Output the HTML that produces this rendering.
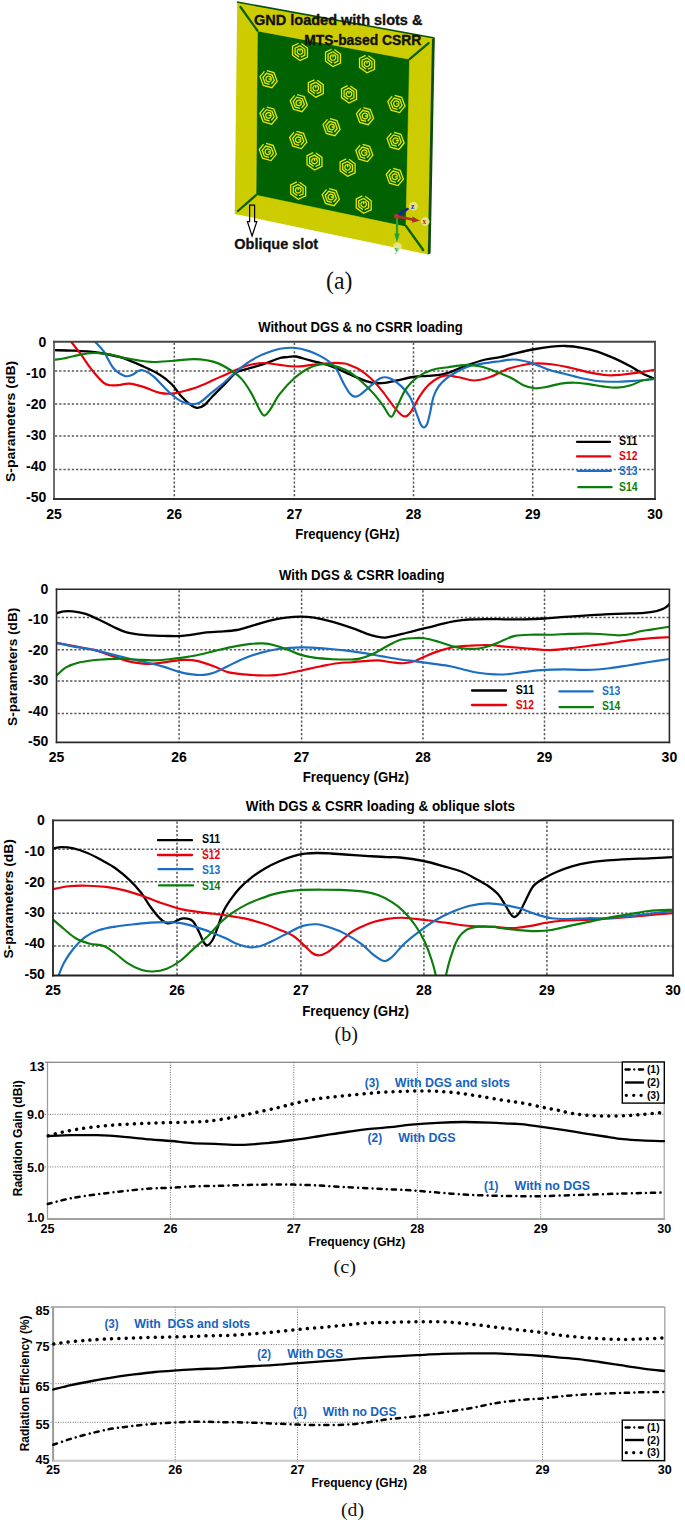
<!DOCTYPE html>
<html><head><meta charset="utf-8"><style>
html,body{margin:0;padding:0;background:#fff;}
body{width:685px;height:1523px;overflow:hidden;}
svg{display:block;}
</style></head><body>
<svg width="685" height="1523" viewBox="0 0 685 1523">
<defs>
<clipPath id="c1"><rect x="54" y="341.8" width="601" height="157.2"/></clipPath>
<clipPath id="c2"><rect x="56.5" y="589.2" width="612.9" height="153.2"/></clipPath>
<clipPath id="c3"><rect x="53" y="820.4" width="620" height="155.1"/></clipPath>
<clipPath id="c4"><rect x="46.5" y="1059.2" width="618.7" height="162.7"/></clipPath>
<clipPath id="c5"><rect x="52.1" y="1304" width="613.7" height="159.7"/></clipPath>
</defs>
<rect x="0" y="0" width="685" height="1523" fill="#fff"/>
<polygon points="237.2,2.3 434.5,38.2 428,254.4 234.7,213.9" fill="#cccc00" stroke="none" stroke-width="0" />
<polygon points="432,39 434.8,38 430.6,253.6 427.8,254.4" fill="#0b4d0b" stroke="none" stroke-width="0" />
<line x1="237" y1="2" x2="434.5" y2="38" stroke="#0a500a" stroke-width="1.6" />
<polygon points="257.4,30.9 409.6,59.2 406,226.8 256,195.2" fill="#006200" stroke="none" stroke-width="0" />
<polygon points="257.4,30.9 409.6,59.2 406,226.8 256,195.2" fill="none" stroke="#d8d800" stroke-width="0.6" />
<line x1="240.5" y1="7" x2="257.4" y2="30.6" stroke="#0a600a" stroke-width="2.3" stroke-linecap="round"/>
<line x1="428.6" y1="43.1" x2="409.6" y2="59.2" stroke="#0a600a" stroke-width="2.3" stroke-linecap="round"/>
<line x1="237.9" y1="211" x2="256" y2="195.2" stroke="#0a600a" stroke-width="2.3" stroke-linecap="round"/>
<line x1="406" y1="226" x2="423.2" y2="250" stroke="#0a600a" stroke-width="2.3" stroke-linecap="round"/>
<path d="M301.35 43.58 L307.48 48.04 L307.48 57.04 L300 60.6 L292.52 55.16 L292.52 46.16 L298.65 43.24 M299.12 56.86 L295.09 53.94 L295.09 48.04 L300 45.7 L304.91 49.26 L304.91 55.16 L300.88 57.08 M300.9 48.9 A2.8 2.8 0 1 1 299.1 48.9 M300 48.3 L300 51.6 M334.35 49.58 L340.48 54.04 L340.48 63.04 L333 66.6 L325.52 61.16 L325.52 52.16 L331.65 49.24 M332.12 62.86 L328.09 59.94 L328.09 54.04 L333 51.7 L337.91 55.26 L337.91 61.16 L333.88 63.08 M333.9 54.9 A2.8 2.8 0 1 1 332.1 54.9 M333 54.3 L333 57.6 M368.35 55.78 L374.48 60.24 L374.48 69.24 L367 72.8 L359.52 67.36 L359.52 58.36 L365.65 55.44 M366.12 69.06 L362.09 66.14 L362.09 60.24 L367 57.9 L371.91 61.46 L371.91 67.36 L367.88 69.28 M367.9 61.1 A2.8 2.8 0 1 1 366.1 61.1 M367 60.5 L367 63.8 M266.9 70.67 L273.92 72.57 L277.16 81.32 L271.84 87.75 L263.28 85.43 L260.04 76.68 L264.41 71.41 M269.71 84.46 L265.11 83.21 L262.99 77.48 L266.48 73.26 L272.09 74.79 L274.21 80.52 L271.35 83.98 M271.3 78.1 A2.8 2.8 0 1 0 271.3 79.9 M271.9 79 L268.6 79 M317.15 80.18 L323.28 84.64 L323.28 93.64 L315.8 97.2 L308.32 91.76 L308.32 82.76 L314.45 79.84 M314.92 93.46 L310.89 90.54 L310.89 84.64 L315.8 82.3 L320.71 85.86 L320.71 91.76 L316.68 93.68 M316.7 85.5 A2.8 2.8 0 1 1 314.9 85.5 M315.8 84.9 L315.8 88.2 M350.35 85.98 L356.48 90.44 L356.48 99.44 L349 103 L341.52 97.56 L341.52 88.56 L347.65 85.64 M348.12 99.26 L344.09 96.34 L344.09 90.44 L349 88.1 L353.91 91.66 L353.91 97.56 L349.88 99.48 M349.9 91.3 A2.8 2.8 0 1 1 348.1 91.3 M349 90.7 L349 94 M394.7 95.47 L401.72 97.37 L404.96 106.12 L399.64 112.55 L391.08 110.23 L387.84 101.48 L392.21 96.21 M397.51 109.26 L392.91 108.01 L390.79 102.28 L394.28 98.06 L399.89 99.59 L402.01 105.32 L399.15 108.78 M399.1 102.9 A2.8 2.8 0 1 0 399.1 104.7 M399.7 103.8 L396.4 103.8 M297.1 94.57 L304.12 96.47 L307.36 105.22 L302.04 111.65 L293.48 109.33 L290.24 100.58 L294.61 95.31 M299.91 108.36 L295.31 107.11 L293.19 101.38 L296.68 97.16 L302.29 98.69 L304.41 104.42 L301.55 107.88 M301.5 102 A2.8 2.8 0 1 0 301.5 103.8 M302.1 102.9 L298.8 102.9 M266.8 107.07 L273.82 108.97 L277.06 117.72 L271.74 124.15 L263.18 121.83 L259.94 113.08 L264.31 107.81 M269.61 120.86 L265.01 119.61 L262.89 113.88 L266.38 109.66 L271.99 111.19 L274.11 116.92 L271.25 120.38 M271.2 114.5 A2.8 2.8 0 1 0 271.2 116.3 M271.8 115.4 L268.5 115.4 M363.3 107.67 L370.32 109.57 L373.56 118.32 L368.24 124.75 L359.68 122.43 L356.44 113.68 L360.81 108.41 M366.11 121.46 L361.51 120.21 L359.39 114.48 L362.88 110.26 L368.49 111.79 L370.61 117.52 L367.75 120.98 M367.7 115.1 A2.8 2.8 0 1 0 367.7 116.9 M368.3 116 L365 116 M329.9 118.67 L336.92 120.57 L340.16 129.32 L334.84 135.75 L326.28 133.43 L323.04 124.68 L327.41 119.41 M332.71 132.46 L328.11 131.21 L325.99 125.48 L329.48 121.26 L335.09 122.79 L337.21 128.52 L334.35 131.98 M334.3 126.1 A2.8 2.8 0 1 0 334.3 127.9 M334.9 127 L331.6 127 M296.5 131.47 L303.52 133.37 L306.76 142.12 L301.44 148.55 L292.88 146.23 L289.64 137.48 L294.01 132.21 M299.31 145.26 L294.71 144.01 L292.59 138.28 L296.08 134.06 L301.69 135.59 L303.81 141.32 L300.95 144.78 M300.9 138.9 A2.8 2.8 0 1 0 300.9 140.7 M301.5 139.8 L298.2 139.8 M393.9 132.37 L400.92 134.27 L404.16 143.02 L398.84 149.45 L390.28 147.13 L387.04 138.38 L391.41 133.11 M396.71 146.16 L392.11 144.91 L389.99 139.18 L393.48 134.96 L399.09 136.49 L401.21 142.22 L398.35 145.68 M398.3 139.8 A2.8 2.8 0 1 0 398.3 141.6 M398.9 140.7 L395.6 140.7 M266.1 143.47 L273.12 145.37 L276.36 154.12 L271.04 160.55 L262.48 158.23 L259.24 149.48 L263.61 144.21 M268.91 157.26 L264.31 156.01 L262.19 150.28 L265.68 146.06 L271.29 147.59 L273.41 153.32 L270.55 156.78 M270.5 150.9 A2.8 2.8 0 1 0 270.5 152.7 M271.1 151.8 L267.8 151.8 M362.6 144.47 L369.62 146.37 L372.86 155.12 L367.54 161.55 L358.98 159.23 L355.74 150.48 L360.11 145.21 M365.41 158.26 L360.81 157.01 L358.69 151.28 L362.18 147.06 L367.79 148.59 L369.91 154.32 L367.05 157.78 M367 151.9 A2.8 2.8 0 1 0 367 153.7 M367.6 152.8 L364.3 152.8 M315.85 152.98 L321.98 157.44 L321.98 166.44 L314.5 170 L307.02 164.56 L307.02 155.56 L313.15 152.64 M313.62 166.26 L309.59 163.34 L309.59 157.44 L314.5 155.1 L319.41 158.66 L319.41 164.56 L315.38 166.48 M315.4 158.3 A2.8 2.8 0 1 1 313.6 158.3 M314.5 157.7 L314.5 161 M348.95 159.28 L355.08 163.74 L355.08 172.74 L347.6 176.3 L340.12 170.86 L340.12 161.86 L346.25 158.94 M346.72 172.56 L342.69 169.64 L342.69 163.74 L347.6 161.4 L352.51 164.96 L352.51 170.86 L348.48 172.78 M348.5 164.6 A2.8 2.8 0 1 1 346.7 164.6 M347.6 164 L347.6 167.3 M393.1 168.47 L400.12 170.37 L403.36 179.12 L398.04 185.55 L389.48 183.23 L386.24 174.48 L390.61 169.21 M395.91 182.26 L391.31 181.01 L389.19 175.28 L392.68 171.06 L398.29 172.59 L400.41 178.32 L397.55 181.78 M397.5 175.9 A2.8 2.8 0 1 0 397.5 177.7 M398.1 176.8 L394.8 176.8 M299.55 182.28 L305.68 186.74 L305.68 195.74 L298.2 199.3 L290.72 193.86 L290.72 184.86 L296.85 181.94 M297.32 195.56 L293.29 192.64 L293.29 186.74 L298.2 184.4 L303.11 187.96 L303.11 193.86 L299.08 195.78 M299.1 187.6 A2.8 2.8 0 1 1 297.3 187.6 M298.2 187 L298.2 190.3 M329.1 188.67 L336.12 190.57 L339.36 199.32 L334.04 205.75 L325.48 203.43 L322.24 194.68 L326.61 189.41 M331.91 202.46 L327.31 201.21 L325.19 195.48 L328.68 191.26 L334.29 192.79 L336.41 198.52 L333.55 201.98 M333.5 196.1 A2.8 2.8 0 1 0 333.5 197.9 M334.1 197 L330.8 197 M365.05 196.28 L371.18 200.74 L371.18 209.74 L363.7 213.3 L356.22 207.86 L356.22 198.86 L362.35 195.94 M362.82 209.56 L358.79 206.64 L358.79 200.74 L363.7 198.4 L368.61 201.96 L368.61 207.86 L364.58 209.78 M364.6 201.6 A2.8 2.8 0 1 1 362.8 201.6 M363.7 201 L363.7 204.3" stroke="#e8e800" stroke-width="1.3" fill="none" />
<text x="254" y="24.5" font-family="Liberation Sans" font-size="14.6" font-weight="bold" fill="#111" textLength="168.4" lengthAdjust="spacingAndGlyphs" stroke="#111" stroke-width="0.35">GND loaded with slots &amp;</text>
<text x="304.3" y="44.8" font-family="Liberation Sans" font-size="14.6" font-weight="bold" fill="#111" textLength="117" lengthAdjust="spacingAndGlyphs" stroke="#111" stroke-width="0.35">MTS-based CSRR</text>
<path d="M249.6 205.2 L254.6 205.2 L254.6 221.6 L256.8 221.6 L252.1 236.0 L247.4 221.6 L249.6 221.6 Z" stroke="#000" stroke-width="1.2" fill="none" stroke-linejoin="miter"/>
<text x="234.3" y="248.9" font-family="Liberation Sans" font-size="14.4" font-weight="bold" fill="#111" textLength="83.8" lengthAdjust="spacingAndGlyphs" stroke="#111" stroke-width="0.3">Oblique slot</text>
<circle cx="413.5" cy="206.2" r="4.4" fill="#e6e6a0" opacity="0.85"/>
<circle cx="425.2" cy="221.5" r="4.4" fill="#e6e6a0" opacity="0.85"/>
<circle cx="397.4" cy="246.6" r="4.4" fill="#e6e6a0" opacity="0.85"/>
<line x1="397" y1="217" x2="397" y2="238" stroke="#22a33a" stroke-width="2.2" />
<polygon points="394.2,233.5 399.8,233.5 397,242.5" fill="#22a33a" stroke="none" stroke-width="0" />
<line x1="397.5" y1="215.5" x2="407.5" y2="209" stroke="#1c1ca0" stroke-width="2.6" stroke-linecap="round"/>
<line x1="397" y1="216.5" x2="414" y2="219.8" stroke="#b03030" stroke-width="2.4" />
<polygon points="412.5,216.5 419.8,220.7 412,222.8" fill="#b03030" stroke="none" stroke-width="0" />
<circle cx="396.6" cy="216.3" r="2.5" fill="#c03030"/>
<text x="411" y="209" font-family="Liberation Serif" font-size="7.5" font-weight="bold" fill="#1a1ae0">z</text>
<text x="422.6" y="224.3" font-family="Liberation Serif" font-size="7.5" font-weight="bold" fill="#e01010">x</text>
<text x="394.8" y="251.5" font-family="Liberation Serif" font-size="7.5" font-weight="bold" fill="#20a030">y</text>
<text x="326" y="288.6" font-family="Liberation Serif" font-size="25.5" font-weight="normal" fill="#111" textLength="26.4" lengthAdjust="spacingAndGlyphs">(a)</text>
<line x1="55" y1="371" x2="655" y2="371" stroke="#5a5a5a" stroke-width="1.5" stroke-dasharray="2.3 1.9"/>
<line x1="55" y1="404" x2="655" y2="404" stroke="#5a5a5a" stroke-width="1.5" stroke-dasharray="2.3 1.9"/>
<line x1="55" y1="435.9" x2="655" y2="435.9" stroke="#5a5a5a" stroke-width="1.5" stroke-dasharray="2.3 1.9"/>
<line x1="55" y1="469.4" x2="655" y2="469.4" stroke="#5a5a5a" stroke-width="1.5" stroke-dasharray="2.3 1.9"/>
<line x1="174.3" y1="342.8" x2="174.3" y2="499" stroke="#5a5a5a" stroke-width="1.5" stroke-dasharray="2.3 1.9"/>
<line x1="294.4" y1="342.8" x2="294.4" y2="499" stroke="#5a5a5a" stroke-width="1.5" stroke-dasharray="2.3 1.9"/>
<line x1="413.5" y1="342.8" x2="413.5" y2="499" stroke="#5a5a5a" stroke-width="1.5" stroke-dasharray="2.3 1.9"/>
<line x1="532.7" y1="342.8" x2="532.7" y2="499" stroke="#5a5a5a" stroke-width="1.5" stroke-dasharray="2.3 1.9"/>
<g clip-path="url(#c1)" fill="none" stroke-linejoin="round" stroke-linecap="round">
<path d="M54 350.2 C57.23 350.27 66.28 350.22 73.4 350.6 C80.52 350.98 88.93 351.4 96.7 352.5 C104.47 353.6 112.22 354.87 120 357.2 C127.78 359.53 136.77 363.58 143.4 366.5 C150.03 369.42 155.12 371.78 159.8 374.7 C164.48 377.62 168 380.5 171.5 384 C175 387.5 177.68 392.27 180.8 395.7 C183.92 399.13 187.47 402.57 190.2 404.6 C192.93 406.63 194.87 407.8 197.2 407.9 C199.53 408 201.78 406.98 204.2 405.2 C206.62 403.42 208.5 400.48 211.7 397.2 C214.9 393.92 219.52 389.48 223.4 385.5 C227.28 381.52 232.08 375.78 235 373.3 C237.92 370.82 237.97 371.58 240.9 370.6 C243.83 369.62 248.72 368.52 252.6 367.4 C256.48 366.28 259.63 365.47 264.2 363.9 C268.77 362.33 276.3 359.12 280 358 C283.7 356.88 283.77 357.45 286.4 357.2 C289.03 356.95 292 356 295.8 356.5 C299.6 357 304.05 358.85 309.2 360.2 C314.35 361.55 321.83 363.1 326.7 364.6 C331.57 366.1 334.5 367.55 338.4 369.2 C342.3 370.85 346.22 372.8 350.1 374.5 C353.98 376.2 357.82 378 361.7 379.4 C365.58 380.8 369.52 382.32 373.4 382.9 C377.28 383.48 381.12 383.3 385 382.9 C388.88 382.5 392.02 381.48 396.7 380.5 C401.38 379.52 408.03 377.77 413.1 377 C418.17 376.23 422.43 376.28 427.1 375.9 C431.77 375.52 436.82 375.48 441.1 374.7 C445.38 373.92 448.52 372.75 452.8 371.2 C457.08 369.65 461.35 367.35 466.8 365.4 C472.25 363.45 479.97 360.87 485.5 359.5 C491.03 358.13 495.25 358.17 500 357.2 C504.75 356.23 508.55 354.98 514 353.7 C519.45 352.42 526.47 350.67 532.7 349.5 C538.93 348.33 545.95 347.28 551.4 346.7 C556.85 346.12 560.33 345.82 565.4 346 C570.47 346.18 576.35 346.83 581.8 347.8 C587.25 348.77 592.65 350.03 598.1 351.8 C603.55 353.57 609.05 355.95 614.5 358.4 C619.95 360.85 626.13 363.98 630.8 366.5 C635.47 369.02 638.3 371.33 642.5 373.5 C646.7 375.67 653.75 378.5 656 379.5" stroke="#000" stroke-width="2.3"/>
<path d="M68 337 C68.43 337.67 68.53 338.22 70.6 341 C72.67 343.78 76.83 348.87 80.4 353.7 C83.97 358.53 88.12 365.13 92 370 C95.88 374.87 100.58 380.37 103.7 382.9 C106.82 385.43 108.15 384.85 110.7 385.2 C113.25 385.55 115.88 385.27 119 385 C122.12 384.73 125.33 383.28 129.4 383.6 C133.47 383.92 138.33 385.35 143.4 386.9 C148.47 388.45 154.73 391.82 159.8 392.9 C164.87 393.98 168.73 393.98 173.8 393.4 C178.87 392.82 185.83 390.63 190.2 389.4 C194.57 388.17 196.03 387.6 200 386 C203.97 384.4 208.93 382.07 214 379.8 C219.07 377.53 224.95 374.73 230.4 372.4 C235.85 370.07 241.25 367.37 246.7 365.8 C252.15 364.23 257.65 363.15 263.1 363 C268.55 362.85 273.95 364.32 279.4 364.9 C284.85 365.48 290.35 366.5 295.8 366.5 C301.25 366.5 306.27 365.48 312.1 364.9 C317.93 364.32 325.35 363.23 330.8 363 C336.25 362.77 341.6 363.13 344.8 363.5 C348 363.87 347.58 364.23 350 365.2 C352.42 366.17 355.8 367.08 359.3 369.3 C362.8 371.52 367.1 374.78 371 378.5 C374.9 382.22 378.8 386.78 382.7 391.6 C386.6 396.42 390.9 403.28 394.4 407.4 C397.9 411.52 400.98 415.52 403.7 416.3 C406.42 417.08 407.97 415.53 410.7 412.1 C413.43 408.67 416.98 400.37 420.1 395.7 C423.22 391.03 425.52 387.4 429.4 384.1 C433.28 380.8 438.72 377.08 443.4 375.9 C448.08 374.72 452.43 376.23 457.5 377 C462.57 377.77 468.35 380.5 473.8 380.5 C479.25 380.5 485.83 378.35 490.2 377 C494.57 375.65 496.42 373.95 500 372.4 C503.58 370.85 506.25 369.18 511.7 367.7 C517.15 366.22 526.08 364.08 532.7 363.5 C539.32 362.92 545.17 363.5 551.4 364.2 C557.63 364.9 563.87 366.33 570.1 367.7 C576.33 369.07 582.57 371.15 588.8 372.4 C595.03 373.65 602.05 374.82 607.5 375.2 C612.95 375.58 616.05 375.17 621.5 374.7 C626.95 374.23 634.45 373.28 640.2 372.4 C645.95 371.52 653.37 369.9 656 369.4" stroke="#e8000b" stroke-width="2.15"/>
<path d="M92 337 C92.4 337.67 92.45 338.6 94.4 341 C96.35 343.4 100.58 346.95 103.7 351.4 C106.82 355.85 109.6 363.62 113.1 367.7 C116.6 371.78 121.47 374.72 124.7 375.9 C127.93 377.08 129.77 375.78 132.5 374.8 C135.23 373.82 137.72 369.82 141.1 370 C144.48 370.18 148.13 372.2 152.8 375.9 C157.47 379.6 164.43 388 169.1 392.2 C173.77 396.4 177.28 399.15 180.8 401.1 C184.32 403.05 187.08 403.63 190.2 403.9 C193.32 404.17 195.92 404.58 199.5 402.7 C203.08 400.82 207.72 395.85 211.7 392.6 C215.68 389.35 219.52 386.52 223.4 383.2 C227.28 379.88 231.12 376 235 372.7 C238.88 369.4 242.8 366.12 246.7 363.4 C250.6 360.68 254.52 358.35 258.4 356.4 C262.28 354.45 266.4 352.97 270 351.7 C273.6 350.43 276.1 349.45 280 348.8 C283.9 348.15 288.53 347.42 293.4 347.8 C298.27 348.18 304.62 349.67 309.2 351.1 C313.78 352.53 317.58 354.65 320.9 356.4 C324.22 358.15 326.77 359.85 329.1 361.6 C331.43 363.35 333.35 365.05 334.9 366.9 C336.45 368.75 336.85 369.78 338.4 372.7 C339.95 375.62 342.25 380.9 344.2 384.4 C346.15 387.9 348.35 391.67 350.1 393.7 C351.85 395.73 353.05 396.4 354.7 396.6 C356.35 396.8 357.67 396.4 360 394.9 C362.33 393.4 365.3 390.38 368.7 387.6 C372.1 384.82 376.9 379.77 380.4 378.2 C383.9 376.63 386.2 376.83 389.7 378.2 C393.2 379.57 398.02 383.27 401.4 386.4 C404.78 389.53 407.47 392.47 410 397 C412.53 401.53 414.85 409.1 416.6 413.6 C418.35 418.1 419.3 421.7 420.5 424 C421.7 426.3 422.7 427.4 423.8 427.4 C424.9 427.4 426.08 426.3 427.1 424 C428.12 421.7 428.82 418.18 429.9 413.6 C430.98 409.02 432.1 401.1 433.6 396.5 C435.1 391.9 436.7 389.07 438.9 386 C441.1 382.93 443.95 380.4 446.8 378.1 C449.65 375.8 452.28 374.17 456 372.2 C459.72 370.23 464.72 367.73 469.1 366.3 C473.48 364.87 477.15 364.45 482.3 363.6 C487.45 362.75 494.72 361.88 500 361.2 C505.28 360.52 508.93 359.27 514 359.5 C519.07 359.73 524.95 361.03 530.4 362.6 C535.85 364.17 541.25 367.08 546.7 368.9 C552.15 370.72 557.25 371.95 563.1 373.5 C568.95 375.05 575.58 376.9 581.8 378.2 C588.02 379.5 594.18 380.72 600.4 381.3 C606.62 381.88 613.25 381.78 619.1 381.7 C624.95 381.62 629.35 381.27 635.5 380.8 C641.65 380.33 652.58 379.22 656 378.9" stroke="#1b6ec2" stroke-width="2.15"/>
<path d="M54 359.8 C55.57 359.58 60.17 359.1 63.4 358.5 C66.63 357.9 69.02 357.08 73.4 356.2 C77.78 355.32 84.25 353.62 89.7 353.2 C95.15 352.78 99.87 352.83 106.1 353.7 C112.33 354.57 119.72 357.03 127.1 358.4 C134.48 359.77 142.62 361.52 150.4 361.9 C158.18 362.28 166.4 361.17 173.8 360.7 C181.2 360.23 188.1 358.9 194.8 359.1 C201.5 359.3 208.07 360.08 214 361.9 C219.93 363.72 225.73 367.08 230.4 370 C235.07 372.92 238.5 375.5 242 379.4 C245.5 383.3 248.47 388.35 251.4 393.4 C254.33 398.45 257.47 406 259.6 409.7 C261.73 413.4 262.45 415.6 264.2 415.6 C265.95 415.6 267.57 413.23 270.1 409.7 C272.63 406.17 275.42 399.6 279.4 394.4 C283.38 389.2 289.03 382.9 294 378.5 C298.97 374.1 304.23 370.38 309.2 368 C314.17 365.62 318.63 364.25 323.8 364.2 C328.97 364.15 335.83 366.33 340.2 367.7 C344.57 369.07 346.42 370.07 350 372.4 C353.58 374.73 357.8 378.2 361.7 381.7 C365.6 385.2 369.9 389.5 373.4 393.4 C376.9 397.3 379.78 401.2 382.7 405.1 C385.62 409 388.57 416.42 390.9 416.8 C393.23 417.18 394.17 412.08 396.7 407.4 C399.23 402.72 402.6 393.77 406.1 388.7 C409.6 383.63 413.42 380.12 417.7 377 C421.98 373.88 426.73 371.63 431.8 370 C436.87 368.37 442.27 368.05 448.1 367.2 C453.93 366.35 461.35 365.02 466.8 364.9 C472.25 364.78 476.13 365.45 480.8 366.5 C485.47 367.55 489.65 369.25 494.8 371.2 C499.95 373.15 506.93 375.87 511.7 378.2 C516.47 380.53 519.52 383.52 523.4 385.2 C527.28 386.88 531.12 388.02 535 388.3 C538.88 388.58 542.42 387.68 546.7 386.9 C550.98 386.12 556.03 384.3 560.7 383.6 C565.37 382.9 570.02 382.62 574.7 382.7 C579.38 382.78 584.12 383.48 588.8 384.1 C593.48 384.72 598.13 385.82 602.8 386.4 C607.47 386.98 612.13 387.8 616.8 387.6 C621.47 387.4 626.52 386.38 630.8 385.2 C635.08 384.02 638.3 381.58 642.5 380.5 C646.7 379.42 653.75 379 656 378.7" stroke="#0a7d0a" stroke-width="2.15"/>
</g>
<line x1="54" y1="340.81" x2="54" y2="500" stroke="#6e6e6e" stroke-width="2" />
<line x1="53" y1="341.8" x2="656" y2="341.8" stroke="#444" stroke-width="2" />
<line x1="655" y1="341.8" x2="655" y2="500" stroke="#5a5a5a" stroke-width="2" />
<line x1="53" y1="499" x2="656" y2="499" stroke="#2e2e2e" stroke-width="2" />
<text x="46.3" y="346.75" font-family="Liberation Sans" font-size="14" font-weight="bold" fill="#000" text-anchor="end">0</text>
<text x="46.3" y="377.85" font-family="Liberation Sans" font-size="14" font-weight="bold" fill="#000" text-anchor="end">-10</text>
<text x="46.3" y="408.95" font-family="Liberation Sans" font-size="14" font-weight="bold" fill="#000" text-anchor="end">-20</text>
<text x="46.3" y="440.05" font-family="Liberation Sans" font-size="14" font-weight="bold" fill="#000" text-anchor="end">-30</text>
<text x="46.3" y="471.15" font-family="Liberation Sans" font-size="14" font-weight="bold" fill="#000" text-anchor="end">-40</text>
<text x="46.3" y="502.25" font-family="Liberation Sans" font-size="14" font-weight="bold" fill="#000" text-anchor="end">-50</text>
<text x="54" y="518.9" font-family="Liberation Sans" font-size="14" font-weight="bold" fill="#000" text-anchor="middle">25</text>
<text x="174.3" y="518.9" font-family="Liberation Sans" font-size="14" font-weight="bold" fill="#000" text-anchor="middle">26</text>
<text x="294.4" y="518.9" font-family="Liberation Sans" font-size="14" font-weight="bold" fill="#000" text-anchor="middle">27</text>
<text x="413.5" y="518.9" font-family="Liberation Sans" font-size="14" font-weight="bold" fill="#000" text-anchor="middle">28</text>
<text x="532.7" y="518.9" font-family="Liberation Sans" font-size="14" font-weight="bold" fill="#000" text-anchor="middle">29</text>
<text x="655" y="518.9" font-family="Liberation Sans" font-size="14" font-weight="bold" fill="#000" text-anchor="middle">30</text>
<text x="258.2" y="331.8" font-family="Liberation Sans" font-size="14" font-weight="bold" fill="#000" textLength="204.6" lengthAdjust="spacingAndGlyphs">Without DGS &amp; no CSRR loading</text>
<text transform="translate(15.3 421.4) rotate(-90)" x="0" y="0" text-anchor="middle" font-family="Liberation Sans" font-weight="bold" font-size="13.5" textLength="121.2" lengthAdjust="spacingAndGlyphs">S-parameters (dB)</text>
<text x="295.3" y="539.1" font-family="Liberation Sans" font-size="14" font-weight="bold" fill="#000" textLength="104.3" lengthAdjust="spacingAndGlyphs">Frequency (GHz)</text>
<line x1="577" y1="441.8" x2="610" y2="441.8" stroke="#000" stroke-width="2.3" stroke-linecap="round"/>
<text x="619.1" y="444.8" font-family="Liberation Sans" font-size="12.5" font-weight="bold" fill="#000" textLength="18.4" lengthAdjust="spacingAndGlyphs">S11</text>
<line x1="577" y1="456.4" x2="610" y2="456.4" stroke="#e8000b" stroke-width="2.3" stroke-linecap="round"/>
<text x="619.1" y="459.8" font-family="Liberation Sans" font-size="12.5" font-weight="bold" fill="#e8000b" textLength="18.4" lengthAdjust="spacingAndGlyphs">S12</text>
<line x1="577.6" y1="470.8" x2="611" y2="470.8" stroke="#1b6ec2" stroke-width="2.3" stroke-linecap="round"/>
<text x="619.1" y="474.6" font-family="Liberation Sans" font-size="12.5" font-weight="bold" fill="#1b6ec2" textLength="18.4" lengthAdjust="spacingAndGlyphs">S13</text>
<line x1="578.4" y1="487.2" x2="611.6" y2="487.2" stroke="#0a7d0a" stroke-width="2.3" stroke-linecap="round"/>
<text x="619.1" y="490.6" font-family="Liberation Sans" font-size="12.5" font-weight="bold" fill="#0a7d0a" textLength="18.4" lengthAdjust="spacingAndGlyphs">S14</text>
<line x1="57.5" y1="617.6" x2="669.4" y2="617.6" stroke="#5a5a5a" stroke-width="1.5" stroke-dasharray="2.3 1.9"/>
<line x1="57.5" y1="649.8" x2="669.4" y2="649.8" stroke="#5a5a5a" stroke-width="1.5" stroke-dasharray="2.3 1.9"/>
<line x1="57.5" y1="680.9" x2="669.4" y2="680.9" stroke="#5a5a5a" stroke-width="1.5" stroke-dasharray="2.3 1.9"/>
<line x1="57.5" y1="713.5" x2="669.4" y2="713.5" stroke="#5a5a5a" stroke-width="1.5" stroke-dasharray="2.3 1.9"/>
<line x1="179.1" y1="590.2" x2="179.1" y2="742.4" stroke="#5a5a5a" stroke-width="1.5" stroke-dasharray="2.3 1.9"/>
<line x1="301.6" y1="590.2" x2="301.6" y2="742.4" stroke="#5a5a5a" stroke-width="1.5" stroke-dasharray="2.3 1.9"/>
<line x1="423" y1="590.2" x2="423" y2="742.4" stroke="#5a5a5a" stroke-width="1.5" stroke-dasharray="2.3 1.9"/>
<line x1="544.5" y1="590.2" x2="544.5" y2="742.4" stroke="#5a5a5a" stroke-width="1.5" stroke-dasharray="2.3 1.9"/>
<g clip-path="url(#c2)" fill="none" stroke-linejoin="round" stroke-linecap="round">
<path d="M56.5 613.2 C57.7 612.9 60.95 611.7 63.7 611.4 C66.45 611.1 69.5 611.02 73 611.4 C76.5 611.78 80.42 612.35 84.7 613.7 C88.98 615.05 94.03 617.37 98.7 619.5 C103.37 621.63 108.03 624.35 112.7 626.5 C117.37 628.65 121.25 630.95 126.7 632.4 C132.15 633.85 139.17 634.62 145.4 635.2 C151.63 635.78 158.45 635.75 164.1 635.9 C169.75 636.05 174.62 636.3 179.3 636.1 C183.98 635.9 188.25 635.25 192.2 634.7 C196.15 634.15 198.63 633.3 203 632.8 C207.37 632.3 212.73 632.17 218.4 631.7 C224.07 631.23 231.17 631.05 237 630 C242.83 628.95 247.55 627.03 253.4 625.4 C259.25 623.77 266.65 621.48 272.1 620.2 C277.55 618.92 281.43 618.28 286.1 617.7 C290.77 617.12 295.43 616.7 300.1 616.7 C304.77 616.7 308.65 616.83 314.1 617.7 C319.55 618.57 326.3 620.12 332.8 621.9 C339.3 623.68 347.52 626.45 353.1 628.4 C358.68 630.35 362.35 632.23 366.3 633.6 C370.25 634.97 373.63 635.93 376.8 636.6 C379.97 637.27 382.23 637.77 385.3 637.6 C388.37 637.43 391.8 636.37 395.2 635.6 C398.6 634.83 401.77 633.98 405.7 633 C409.63 632.02 414.75 630.68 418.8 629.7 C422.85 628.72 426.33 628.02 430 627.1 C433.67 626.18 436.67 625.18 440.8 624.2 C444.93 623.22 450.13 621.98 454.8 621.2 C459.47 620.42 463.35 619.85 468.8 619.5 C474.25 619.15 481.47 619.13 487.5 619.1 C493.53 619.07 498.77 619.27 505 619.3 C511.23 619.33 518.28 619.43 524.9 619.3 C531.52 619.17 538.08 618.92 544.7 618.5 C551.32 618.08 557.98 617.28 564.6 616.8 C571.22 616.32 577.78 616.02 584.4 615.6 C591.02 615.18 597.68 614.63 604.3 614.3 C610.92 613.97 617.48 613.85 624.1 613.6 C630.72 613.35 638.62 613.22 644 612.8 C649.38 612.38 653.1 611.8 656.4 611.1 C659.7 610.4 661.65 609.72 663.8 608.6 C665.95 607.48 668.1 605.67 669.3 604.4 C670.5 603.13 670.72 601.57 671 601" stroke="#000" stroke-width="2.3"/>
<path d="M56.5 642.9 C59.65 643.48 69.15 645.23 75.4 646.4 C81.65 647.57 87.78 648.27 94 649.9 C100.22 651.53 107.25 654.37 112.7 656.2 C118.15 658.03 122.02 659.7 126.7 660.9 C131.38 662.1 136.52 662.9 140.8 663.4 C145.08 663.9 147.73 664.2 152.4 663.9 C157.07 663.6 163.35 662.27 168.8 661.6 C174.25 660.93 180.43 660.02 185.1 659.9 C189.77 659.78 192.03 659.85 196.8 660.9 C201.57 661.95 208.55 664.33 213.7 666.2 C218.85 668.07 222.65 670.73 227.7 672.1 C232.75 673.47 238.55 673.85 244 674.4 C249.45 674.95 254.95 675.28 260.4 675.4 C265.85 675.52 271.63 675.53 276.7 675.1 C281.77 674.67 286.12 673.7 290.8 672.8 C295.48 671.9 299.75 670.8 304.8 669.7 C309.85 668.6 315.65 667.28 321.1 666.2 C326.55 665.12 332.35 663.87 337.5 663.2 C342.65 662.53 347.63 662.55 352 662.2 C356.37 661.85 359.42 661.4 363.7 661.1 C367.98 660.8 373.03 660.2 377.7 660.4 C382.37 660.6 387.42 661.83 391.7 662.3 C395.98 662.77 399.5 663.43 403.4 663.2 C407.3 662.97 411.22 662.15 415.1 660.9 C418.98 659.65 422.42 657.45 426.7 655.7 C430.98 653.95 436.12 651.87 440.8 650.4 C445.48 648.93 450.13 647.68 454.8 646.9 C459.47 646.12 463.35 646.02 468.8 645.7 C474.25 645.38 481.47 644.85 487.5 645 C493.53 645.15 498.77 646.05 505 646.6 C511.23 647.15 517.45 647.72 524.9 648.3 C532.35 648.88 542.27 650.1 549.7 650.1 C557.13 650.1 562.88 649.02 569.5 648.3 C576.12 647.58 582.78 646.62 589.4 645.8 C596.02 644.98 602.58 644.3 609.2 643.4 C615.82 642.5 622.47 641.23 629.1 640.4 C635.73 639.57 642.3 638.93 649 638.4 C655.7 637.87 665.92 637.4 669.3 637.2" stroke="#e8000b" stroke-width="2.15"/>
<path d="M56.5 642.9 C59.65 643.57 69.15 645.73 75.4 646.9 C81.65 648.07 87.78 648.62 94 649.9 C100.22 651.18 106.47 653.05 112.7 654.6 C118.93 656.15 125.17 657.77 131.4 659.2 C137.63 660.63 144.65 661.92 150.1 663.2 C155.55 664.48 159.43 665.5 164.1 666.9 C168.77 668.3 173.42 670.35 178.1 671.6 C182.78 672.85 187.92 673.85 192.2 674.4 C196.48 674.95 200.22 675.17 203.8 674.9 C207.38 674.63 209.72 674.25 213.7 672.8 C217.68 671.35 222.65 668.58 227.7 666.2 C232.75 663.82 238.55 660.72 244 658.5 C249.45 656.28 254.95 654.45 260.4 652.9 C265.85 651.35 270.87 650.08 276.7 649.2 C282.53 648.32 289.55 647.87 295.4 647.6 C301.25 647.33 306.35 647.42 311.8 647.6 C317.25 647.78 322.27 648.2 328.1 648.7 C333.93 649.2 340.48 649.82 346.8 650.6 C353.12 651.38 360.07 652.43 366 653.4 C371.93 654.37 376.95 655.43 382.4 656.4 C387.85 657.37 392.87 658.33 398.7 659.2 C404.53 660.07 411.55 660.82 417.4 661.6 C423.25 662.38 428.35 663.13 433.8 663.9 C439.25 664.67 445.05 665.23 450.1 666.2 C455.15 667.17 459.43 668.6 464.1 669.7 C468.77 670.8 473.03 672.02 478.1 672.8 C483.17 673.58 489.68 674.17 494.5 674.4 C499.32 674.63 501.93 674.62 507 674.2 C512.07 673.78 518.62 672.62 524.9 671.9 C531.18 671.18 538.08 670.32 544.7 669.9 C551.32 669.48 557.57 669.4 564.6 669.4 C571.63 669.4 579.47 670.1 586.9 669.9 C594.33 669.7 602.17 668.98 609.2 668.2 C616.23 667.42 622.47 666.23 629.1 665.2 C635.73 664.17 642.3 663.03 649 662 C655.7 660.97 665.92 659.5 669.3 659" stroke="#1b6ec2" stroke-width="2.15"/>
<path d="M56.5 675.6 C58.08 674.23 62.08 669.62 66 667.4 C69.92 665.18 74.55 663.58 80 662.3 C85.45 661.02 92.47 660.28 98.7 659.7 C104.93 659.12 111.17 658.83 117.4 658.8 C123.63 658.77 130.27 659.23 136.1 659.5 C141.93 659.77 146.95 660.45 152.4 660.4 C157.85 660.35 163.73 659.67 168.8 659.2 C173.87 658.73 178.13 658.25 182.8 657.6 C187.47 656.95 191.27 656.47 196.8 655.3 C202.33 654.13 210.07 652 216 650.6 C221.93 649.2 226.95 647.98 232.4 646.9 C237.85 645.82 243.65 644.68 248.7 644.1 C253.75 643.52 258.42 643.22 262.7 643.4 C266.98 643.58 270.12 644.12 274.4 645.2 C278.68 646.28 284.12 648.33 288.4 649.9 C292.68 651.47 295.82 653.32 300.1 654.6 C304.38 655.88 308.65 656.83 314.1 657.6 C319.55 658.37 326.95 658.88 332.8 659.2 C338.65 659.52 344.72 659.6 349.2 659.5 C353.68 659.4 355.77 659.52 359.7 658.6 C363.63 657.68 368.43 655.97 372.8 654 C377.17 652.03 381.52 649.1 385.9 646.8 C390.28 644.5 394.63 641.63 399.1 640.2 C403.57 638.77 408.48 638.53 412.7 638.2 C416.92 637.87 420.12 637.62 424.4 638.2 C428.68 638.78 433.73 640.33 438.4 641.7 C443.07 643.07 447.72 645.23 452.4 646.4 C457.08 647.57 461.82 648.38 466.5 648.7 C471.18 649.02 475.83 649.07 480.5 648.3 C485.17 647.53 490.42 645.55 494.5 644.1 C498.58 642.65 501.6 640.97 505 639.6 C508.4 638.23 510.77 636.72 514.9 635.9 C519.03 635.08 524 634.9 529.8 634.7 C535.6 634.5 543.08 634.83 549.7 634.7 C556.32 634.57 563.3 634.08 569.5 633.9 C575.7 633.72 581.8 633.58 586.9 633.6 C592 633.62 596.08 633.8 600.1 634 C604.12 634.2 607.63 634.58 611 634.8 C614.37 635.02 617.13 635.4 620.3 635.3 C623.47 635.2 626.65 634.87 630 634.2 C633.35 633.53 636.83 632.07 640.4 631.3 C643.97 630.53 646.58 630.37 651.4 629.6 C656.22 628.83 666.32 627.18 669.3 626.7" stroke="#0a7d0a" stroke-width="2.15"/>
</g>
<line x1="56.5" y1="588.41" x2="56.5" y2="743.2" stroke="#2a2a2a" stroke-width="1.6" />
<line x1="55.7" y1="589.2" x2="670.2" y2="589.2" stroke="#2a2a2a" stroke-width="1.6" />
<line x1="669.4" y1="589.2" x2="669.4" y2="743.2" stroke="#2a2a2a" stroke-width="1.6" />
<line x1="55.7" y1="742.4" x2="670.2" y2="742.4" stroke="#2a2a2a" stroke-width="1.6" />
<text x="48.3" y="593.95" font-family="Liberation Sans" font-size="14" font-weight="bold" fill="#000" text-anchor="end">0</text>
<text x="48.3" y="624.35" font-family="Liberation Sans" font-size="14" font-weight="bold" fill="#000" text-anchor="end">-10</text>
<text x="48.3" y="654.75" font-family="Liberation Sans" font-size="14" font-weight="bold" fill="#000" text-anchor="end">-20</text>
<text x="48.3" y="685.15" font-family="Liberation Sans" font-size="14" font-weight="bold" fill="#000" text-anchor="end">-30</text>
<text x="48.3" y="715.55" font-family="Liberation Sans" font-size="14" font-weight="bold" fill="#000" text-anchor="end">-40</text>
<text x="48.3" y="745.95" font-family="Liberation Sans" font-size="14" font-weight="bold" fill="#000" text-anchor="end">-50</text>
<text x="56.5" y="762" font-family="Liberation Sans" font-size="14" font-weight="bold" fill="#000" text-anchor="middle">25</text>
<text x="179.1" y="762" font-family="Liberation Sans" font-size="14" font-weight="bold" fill="#000" text-anchor="middle">26</text>
<text x="301.6" y="762" font-family="Liberation Sans" font-size="14" font-weight="bold" fill="#000" text-anchor="middle">27</text>
<text x="423" y="762" font-family="Liberation Sans" font-size="14" font-weight="bold" fill="#000" text-anchor="middle">28</text>
<text x="544.5" y="762" font-family="Liberation Sans" font-size="14" font-weight="bold" fill="#000" text-anchor="middle">29</text>
<text x="669.4" y="762" font-family="Liberation Sans" font-size="14" font-weight="bold" fill="#000" text-anchor="middle">30</text>
<text x="279" y="579.5" font-family="Liberation Sans" font-size="14" font-weight="bold" fill="#000" textLength="165.5" lengthAdjust="spacingAndGlyphs">With DGS &amp; CSRR loading</text>
<text transform="translate(17.1 666.8) rotate(-90)" x="0" y="0" text-anchor="middle" font-family="Liberation Sans" font-weight="bold" font-size="13.5" textLength="118.2" lengthAdjust="spacingAndGlyphs">S-parameters (dB)</text>
<text x="302.7" y="782" font-family="Liberation Sans" font-size="14" font-weight="bold" fill="#000" textLength="106.2" lengthAdjust="spacingAndGlyphs">Frequency (GHz)</text>
<line x1="472" y1="690.5" x2="506" y2="690.5" stroke="#000" stroke-width="2.3" stroke-linecap="round"/>
<text x="515.7" y="693.9" font-family="Liberation Sans" font-size="12.5" font-weight="bold" fill="#000" textLength="18.4" lengthAdjust="spacingAndGlyphs">S11</text>
<line x1="472" y1="705" x2="506" y2="705" stroke="#e8000b" stroke-width="2.3" stroke-linecap="round"/>
<text x="515.7" y="709" font-family="Liberation Sans" font-size="12.5" font-weight="bold" fill="#e8000b" textLength="18.4" lengthAdjust="spacingAndGlyphs">S12</text>
<line x1="559.3" y1="691.3" x2="592.7" y2="691.3" stroke="#1b6ec2" stroke-width="2.3" stroke-linecap="round"/>
<text x="601.9" y="694.8" font-family="Liberation Sans" font-size="12.5" font-weight="bold" fill="#1b6ec2" textLength="18.4" lengthAdjust="spacingAndGlyphs">S13</text>
<line x1="559.5" y1="707.1" x2="593" y2="707.1" stroke="#0a7d0a" stroke-width="2.3" stroke-linecap="round"/>
<text x="601.9" y="710.3" font-family="Liberation Sans" font-size="12.5" font-weight="bold" fill="#0a7d0a" textLength="18.4" lengthAdjust="spacingAndGlyphs">S14</text>
<line x1="54" y1="849.3" x2="673" y2="849.3" stroke="#5a5a5a" stroke-width="1.5" stroke-dasharray="2.3 1.9"/>
<line x1="54" y1="881.7" x2="673" y2="881.7" stroke="#5a5a5a" stroke-width="1.5" stroke-dasharray="2.3 1.9"/>
<line x1="54" y1="913.3" x2="673" y2="913.3" stroke="#5a5a5a" stroke-width="1.5" stroke-dasharray="2.3 1.9"/>
<line x1="54" y1="946.1" x2="673" y2="946.1" stroke="#5a5a5a" stroke-width="1.5" stroke-dasharray="2.3 1.9"/>
<line x1="177" y1="821.4" x2="177" y2="975.5" stroke="#5a5a5a" stroke-width="1.5" stroke-dasharray="2.3 1.9"/>
<line x1="300.9" y1="821.4" x2="300.9" y2="975.5" stroke="#5a5a5a" stroke-width="1.5" stroke-dasharray="2.3 1.9"/>
<line x1="423.9" y1="821.4" x2="423.9" y2="975.5" stroke="#5a5a5a" stroke-width="1.5" stroke-dasharray="2.3 1.9"/>
<line x1="546.9" y1="821.4" x2="546.9" y2="975.5" stroke="#5a5a5a" stroke-width="1.5" stroke-dasharray="2.3 1.9"/>
<g clip-path="url(#c3)" fill="none" stroke-linejoin="round" stroke-linecap="round">
<path d="M53 848.4 C54.45 848.2 58.3 847.2 61.7 847.2 C65.1 847.2 69.12 847.43 73.4 848.4 C77.68 849.37 82.73 851.07 87.4 853 C92.07 854.93 96.73 857.47 101.4 860 C106.07 862.53 110.73 864.88 115.4 868.2 C120.07 871.52 125.12 875.82 129.4 879.9 C133.68 883.98 137.6 888.22 141.1 892.7 C144.6 897.18 147.28 902.52 150.4 906.8 C153.52 911.08 157.07 915.68 159.8 918.4 C162.53 921.12 164.47 922.5 166.8 923.1 C169.13 923.7 171.08 922.78 173.8 922 C176.52 921.22 179.98 918.6 183.1 918.4 C186.22 918.2 189.77 918.37 192.5 920.8 C195.23 923.23 197.67 929.47 199.5 933 C201.33 936.53 202.17 939.95 203.5 942 C204.83 944.05 205.95 945.72 207.5 945.3 C209.05 944.88 211.13 942.42 212.8 939.5 C214.47 936.58 215.73 932.48 217.5 927.8 C219.27 923.12 221.25 916.07 223.4 911.4 C225.55 906.73 227.68 903.68 230.4 899.8 C233.12 895.92 236.2 891.8 239.7 888.1 C243.2 884.4 247.12 880.92 251.4 877.6 C255.68 874.28 260.73 870.93 265.4 868.2 C270.07 865.47 274.73 863.22 279.4 861.2 C284.07 859.18 289.12 857.35 293.4 856.1 C297.68 854.85 301.2 854.22 305.1 853.7 C309 853.18 312.52 853.03 316.8 853 C321.08 852.97 326.13 853.25 330.8 853.5 C335.47 853.75 338.48 854.07 344.8 854.5 C351.12 854.93 361.6 855.65 368.7 856.1 C375.8 856.55 382.18 856.97 387.4 857.2 C392.62 857.43 393.97 856.87 400 857.5 C406.03 858.13 416.3 859.53 423.6 861 C430.9 862.47 437.52 864.55 443.8 866.3 C450.08 868.05 456.05 869.47 461.3 871.5 C466.55 873.53 470.93 876.17 475.3 878.5 C479.67 880.83 483.7 882.87 487.5 885.5 C491.3 888.13 495.17 891.08 498.1 894.3 C501.03 897.52 503.07 901.58 505.1 904.8 C507.13 908.02 508.85 911.57 510.3 913.6 C511.75 915.63 512.63 916.72 513.8 917 C514.97 917.28 516.27 916.17 517.3 915.3 C518.33 914.43 518.6 914.32 520 911.8 C521.4 909.28 523.47 904.48 525.7 900.2 C527.93 895.92 530.4 889.73 533.4 886.1 C536.4 882.47 539.85 880.75 543.7 878.4 C547.55 876.05 551.8 874.02 556.5 872 C561.2 869.98 566.33 867.9 571.9 866.3 C577.47 864.7 583.9 863.38 589.9 862.4 C595.9 861.42 601.47 860.95 607.9 860.4 C614.33 859.85 621.65 859.45 628.5 859.1 C635.35 858.75 641.58 858.63 649 858.3 C656.42 857.97 669 857.3 673 857.1" stroke="#000" stroke-width="2.3"/>
<path d="M53 889.2 C55.62 888.7 62.97 886.78 68.7 886.2 C74.43 885.62 81.17 885.58 87.4 885.7 C93.63 885.82 99.88 886.12 106.1 886.9 C112.32 887.68 118.48 888.83 124.7 890.4 C130.92 891.97 137.17 894.15 143.4 896.3 C149.63 898.45 155.87 901.17 162.1 903.3 C168.33 905.43 174.57 907.63 180.8 909.1 C187.03 910.57 193.97 911.32 199.5 912.1 C205.03 912.88 208.85 913.13 214 913.8 C219.15 914.47 224.95 915.25 230.4 916.1 C235.85 916.95 241.25 917.65 246.7 918.9 C252.15 920.15 257.65 921.8 263.1 923.6 C268.55 925.4 274.35 927.63 279.4 929.7 C284.45 931.77 289.5 933.6 293.4 936 C297.3 938.4 299.68 941.27 302.8 944.1 C305.92 946.93 309.38 951.13 312.1 953 C314.82 954.87 316.57 955.42 319.1 955.3 C321.63 955.18 324.18 954.17 327.3 952.3 C330.42 950.43 334.1 947.22 337.8 944.1 C341.5 940.98 345.92 936.32 349.5 933.6 C353.08 930.88 355.32 929.73 359.3 927.8 C363.28 925.87 368.72 923.48 373.4 922 C378.08 920.52 382.73 919.62 387.4 918.9 C392.07 918.18 396.73 917.7 401.4 917.7 C406.07 917.7 410.33 918.38 415.4 918.9 C420.47 919.42 426.35 920.1 431.8 920.8 C437.25 921.5 442.65 922.32 448.1 923.1 C453.55 923.88 459.05 924.92 464.5 925.5 C469.95 926.08 475.75 926.37 480.8 926.6 C485.85 926.83 490.43 926.67 494.8 926.9 C499.17 927.13 503.57 927.82 507 928 C510.43 928.18 511.43 928.35 515.4 928 C519.37 927.65 525.67 926.77 530.8 925.9 C535.93 925.03 541.05 923.65 546.2 922.8 C551.35 921.95 555.7 921.27 561.7 920.8 C567.7 920.33 575.35 920.3 582.2 920 C589.05 919.7 595.95 919.43 602.8 919 C609.65 918.57 616.45 917.97 623.3 917.4 C630.15 916.83 635.62 916.32 643.9 915.6 C652.18 914.88 668.15 913.52 673 913.1" stroke="#e8000b" stroke-width="2.15"/>
<path d="M56.5 985 C56.78 983.63 56.95 980.5 58.2 976.8 C59.45 973.1 61.47 967.47 64 962.8 C66.53 958.13 69.9 953.08 73.4 948.8 C76.9 944.52 80.72 940.22 85 937.1 C89.28 933.98 94.03 931.85 99.1 930.1 C104.17 928.35 109.57 927.57 115.4 926.6 C121.23 925.63 128.27 924.97 134.1 924.3 C139.93 923.63 144.95 922.95 150.4 922.6 C155.85 922.25 161.73 922.12 166.8 922.2 C171.87 922.28 176.13 922.37 180.8 923.1 C185.47 923.83 189.65 925.03 194.8 926.6 C199.95 928.17 206.55 930.55 211.7 932.5 C216.85 934.45 221.42 936.37 225.7 938.3 C229.98 940.23 233.5 942.62 237.4 944.1 C241.3 945.58 245.22 946.88 249.1 947.2 C252.98 947.52 256.43 947.22 260.7 946 C264.97 944.78 270.02 942.15 274.7 939.9 C279.38 937.65 284.12 934.83 288.8 932.5 C293.48 930.17 298.13 927.27 302.8 925.9 C307.47 924.53 312.13 923.98 316.8 924.3 C321.47 924.62 326.13 926.25 330.8 927.8 C335.47 929.35 339.65 930.88 344.8 933.6 C349.95 936.32 356.93 940.58 361.7 944.1 C366.47 947.62 369.7 951.88 373.4 954.7 C377.1 957.52 380.8 960.62 383.9 961 C387 961.38 388.7 959.8 392 957 C395.3 954.2 399.45 948.23 403.7 944.2 C407.95 940.17 412.28 936.75 417.5 932.8 C422.72 928.85 429.17 924 435 920.5 C440.83 917 446.67 914.27 452.5 911.8 C458.33 909.33 464.17 907.1 470 905.7 C475.83 904.3 481.65 903.5 487.5 903.4 C493.35 903.3 499.68 904.28 505.1 905.1 C510.52 905.92 516.57 907.4 520 908.3 C523.43 909.2 522.62 909.37 525.7 910.5 C528.78 911.63 534.22 913.82 538.5 915.1 C542.78 916.38 546.68 917.55 551.4 918.2 C556.12 918.85 560.8 919 566.8 919 C572.8 919 580.55 918.33 587.4 918.2 C594.25 918.07 601.05 918.5 607.9 918.2 C614.75 917.9 621.65 917.13 628.5 916.4 C635.35 915.67 641.58 914.7 649 913.8 C656.42 912.9 669 911.47 673 911" stroke="#1b6ec2" stroke-width="2.15"/>
<path d="M53 919.6 C54.83 921.17 60.22 925.88 64 929 C67.78 932.12 71.42 935.85 75.7 938.3 C79.98 940.75 85.03 942.42 89.7 943.7 C94.37 944.98 99.42 944.37 103.7 946 C107.98 947.63 111.5 950.7 115.4 953.5 C119.3 956.3 122.82 960.08 127.1 962.8 C131.38 965.52 136.82 968.35 141.1 969.8 C145.38 971.25 148.52 971.68 152.8 971.5 C157.08 971.32 162.13 970.53 166.8 968.7 C171.47 966.87 176.13 964.02 180.8 960.5 C185.47 956.98 190.05 951.88 194.8 947.6 C199.55 943.32 204.93 939.07 209.3 934.8 C213.67 930.53 217.1 925.7 221 922 C224.9 918.3 228.42 915.53 232.7 912.6 C236.98 909.67 242.03 906.73 246.7 904.4 C251.37 902.07 256.03 900.35 260.7 898.6 C265.37 896.85 270.02 895.15 274.7 893.9 C279.38 892.65 284.12 891.77 288.8 891.1 C293.48 890.43 297.35 890.13 302.8 889.9 C308.25 889.67 315.27 889.7 321.5 889.7 C327.73 889.7 335.45 889.78 340.2 889.9 C344.95 890.02 346.03 890.12 350 890.4 C353.97 890.68 359.33 890.82 364 891.6 C368.67 892.38 373.33 893.35 378 895.1 C382.67 896.85 387.72 899.38 392 902.1 C396.28 904.82 399.8 907.5 403.7 911.4 C407.6 915.3 411.9 920.43 415.4 925.5 C418.9 930.57 421.97 935.97 424.7 941.8 C427.43 947.63 429.92 954.8 431.8 960.5 C433.68 966.2 435.05 971.92 436 976 C436.95 980.08 437.25 983.5 437.5 985" stroke="#0a7d0a" stroke-width="2.15"/>
<path d="M444.5 985 C444.72 983.5 444.82 980.47 445.8 976 C446.78 971.53 448.45 964.28 450.4 958.2 C452.35 952.12 454.77 944.25 457.5 939.5 C460.23 934.75 463.3 931.85 466.8 929.7 C470.3 927.55 473.83 927.07 478.5 926.6 C483.17 926.13 491.22 926.67 494.8 926.9 C498.38 927.13 496.57 927.52 500 928 C503.43 928.48 509.4 929.28 515.4 929.8 C521.4 930.32 530 931.07 536 931.1 C542 931.13 545.83 930.87 551.4 930 C556.97 929.13 563.4 927.22 569.4 925.9 C575.4 924.58 580.98 923.47 587.4 922.1 C593.82 920.73 601.05 918.98 607.9 917.7 C614.75 916.42 621.65 915.52 628.5 914.4 C635.35 913.28 641.58 911.78 649 911 C656.42 910.22 669 909.92 673 909.7" stroke="#0a7d0a" stroke-width="2.15"/>
</g>
<line x1="53" y1="819.51" x2="53" y2="976.4" stroke="#222" stroke-width="1.8" />
<line x1="52.1" y1="820.4" x2="673.9" y2="820.4" stroke="#333" stroke-width="1.8" />
<line x1="673" y1="820.4" x2="673" y2="976.4" stroke="#333" stroke-width="1.8" />
<line x1="52.1" y1="975.5" x2="673.9" y2="975.5" stroke="#222" stroke-width="1.8" />
<text x="44.8" y="825.15" font-family="Liberation Sans" font-size="14" font-weight="bold" fill="#000" text-anchor="end">0</text>
<text x="44.8" y="855.91" font-family="Liberation Sans" font-size="14" font-weight="bold" fill="#000" text-anchor="end">-10</text>
<text x="44.8" y="886.67" font-family="Liberation Sans" font-size="14" font-weight="bold" fill="#000" text-anchor="end">-20</text>
<text x="44.8" y="917.43" font-family="Liberation Sans" font-size="14" font-weight="bold" fill="#000" text-anchor="end">-30</text>
<text x="44.8" y="948.19" font-family="Liberation Sans" font-size="14" font-weight="bold" fill="#000" text-anchor="end">-40</text>
<text x="44.8" y="978.95" font-family="Liberation Sans" font-size="14" font-weight="bold" fill="#000" text-anchor="end">-50</text>
<text x="53" y="995" font-family="Liberation Sans" font-size="14" font-weight="bold" fill="#000" text-anchor="middle">25</text>
<text x="177" y="995" font-family="Liberation Sans" font-size="14" font-weight="bold" fill="#000" text-anchor="middle">26</text>
<text x="300.9" y="995" font-family="Liberation Sans" font-size="14" font-weight="bold" fill="#000" text-anchor="middle">27</text>
<text x="423.9" y="995" font-family="Liberation Sans" font-size="14" font-weight="bold" fill="#000" text-anchor="middle">28</text>
<text x="546.9" y="995" font-family="Liberation Sans" font-size="14" font-weight="bold" fill="#000" text-anchor="middle">29</text>
<text x="673" y="995" font-family="Liberation Sans" font-size="14" font-weight="bold" fill="#000" text-anchor="middle">30</text>
<text x="245.8" y="811" font-family="Liberation Sans" font-size="14" font-weight="bold" fill="#000" textLength="269.1" lengthAdjust="spacingAndGlyphs">With DGS &amp; CSRR loading &amp; oblique slots</text>
<text transform="translate(13.2 898.9) rotate(-90)" x="0" y="0" text-anchor="middle" font-family="Liberation Sans" font-weight="bold" font-size="13.5" textLength="119.4" lengthAdjust="spacingAndGlyphs">S-parameters (dB)</text>
<text x="302.2" y="1015.9" font-family="Liberation Sans" font-size="14" font-weight="bold" fill="#000" textLength="106.7" lengthAdjust="spacingAndGlyphs">Frequency (GHz)</text>
<line x1="158" y1="840.2" x2="192" y2="840.2" stroke="#000" stroke-width="2.3" stroke-linecap="round"/>
<text x="201.9" y="843.3" font-family="Liberation Sans" font-size="12.5" font-weight="bold" fill="#000" textLength="18.4" lengthAdjust="spacingAndGlyphs">S11</text>
<line x1="158" y1="855" x2="192" y2="855" stroke="#e8000b" stroke-width="2.3" stroke-linecap="round"/>
<text x="201.9" y="858.8" font-family="Liberation Sans" font-size="12.5" font-weight="bold" fill="#e8000b" textLength="18.4" lengthAdjust="spacingAndGlyphs">S12</text>
<line x1="158.5" y1="869.2" x2="192.5" y2="869.2" stroke="#1b6ec2" stroke-width="2.3" stroke-linecap="round"/>
<text x="201.9" y="874" font-family="Liberation Sans" font-size="12.5" font-weight="bold" fill="#1b6ec2" textLength="18.4" lengthAdjust="spacingAndGlyphs">S13</text>
<line x1="159" y1="885.4" x2="193" y2="885.4" stroke="#0a7d0a" stroke-width="2.3" stroke-linecap="round"/>
<text x="201.9" y="889.8" font-family="Liberation Sans" font-size="12.5" font-weight="bold" fill="#0a7d0a" textLength="18.4" lengthAdjust="spacingAndGlyphs">S14</text>
<text x="334.6" y="1040.6" font-family="Liberation Serif" font-size="20.2" font-weight="normal" fill="#111" textLength="23.4" lengthAdjust="spacingAndGlyphs">(b)</text>
<line x1="45" y1="1114.3" x2="664.2" y2="1114.3" stroke="#6e6e6e" stroke-width="1" stroke-dasharray="1 1.45"/>
<line x1="45" y1="1166.9" x2="664.2" y2="1166.9" stroke="#6e6e6e" stroke-width="1" stroke-dasharray="1 1.45"/>
<line x1="170.4" y1="1062.2" x2="170.4" y2="1221.4" stroke="#6e6e6e" stroke-width="1" stroke-dasharray="1 1.45"/>
<line x1="293.8" y1="1062.2" x2="293.8" y2="1221.4" stroke="#6e6e6e" stroke-width="1" stroke-dasharray="1 1.45"/>
<line x1="417.3" y1="1062.2" x2="417.3" y2="1221.4" stroke="#6e6e6e" stroke-width="1" stroke-dasharray="1 1.45"/>
<line x1="540.7" y1="1062.2" x2="540.7" y2="1221.4" stroke="#6e6e6e" stroke-width="1" stroke-dasharray="1 1.45"/>
<line x1="47.5" y1="1062.2" x2="47.5" y2="1219.9" stroke="#9a9a9a" stroke-width="1.2" />
<line x1="45" y1="1062.2" x2="664.2" y2="1062.2" stroke="#666" stroke-width="1.1" />
<line x1="664.2" y1="1062.2" x2="664.2" y2="1219.9" stroke="#9a9a9a" stroke-width="1.1" />
<line x1="47.5" y1="1218.9" x2="664.75" y2="1218.9" stroke="#a0a0a0" stroke-width="2" />
<g clip-path="url(#c4)" fill="none" stroke="#000">
<path d="M47.5 1204 C51.47 1203.03 62.97 1199.82 71.3 1198.2 C79.63 1196.58 88.75 1195.48 97.5 1194.3 C106.25 1193.12 115.03 1192.07 123.8 1191.1 C132.57 1190.13 142.22 1189.07 150.1 1188.5 C157.98 1187.93 164.1 1188.05 171.1 1187.7 C178.1 1187.35 184.78 1186.7 192.1 1186.4 C199.42 1186.1 206.8 1186.12 215 1185.9 C223.2 1185.68 232.55 1185.32 241.3 1185.1 C250.05 1184.88 258.75 1184.68 267.5 1184.6 C276.25 1184.52 285.03 1184.43 293.8 1184.6 C302.57 1184.77 311.33 1185.17 320.1 1185.6 C328.87 1186.03 337.65 1186.72 346.4 1187.2 C355.15 1187.68 365.33 1188.15 372.6 1188.5 C379.87 1188.85 383.55 1188.98 390 1189.3 C396.45 1189.62 403.38 1189.87 411.3 1190.4 C419.22 1190.93 428.75 1191.8 437.5 1192.5 C446.25 1193.2 455.03 1194.08 463.8 1194.6 C472.57 1195.12 481.33 1195.35 490.1 1195.6 C498.87 1195.85 507.65 1196.02 516.4 1196.1 C525.15 1196.18 533.12 1196.27 542.6 1196.1 C552.08 1195.93 563.8 1195.4 573.3 1195.1 C582.8 1194.8 591.28 1194.57 599.6 1194.3 C607.92 1194.03 615.75 1193.72 623.2 1193.5 C630.65 1193.28 637.5 1193.17 644.3 1193 C651.1 1192.83 660.72 1192.58 664 1192.5" stroke-width="2.5" stroke-linecap="round" stroke-dasharray="4.2 5.3 0.01 4.9"/>
<path d="M47.5 1136 C51.47 1135.87 62.97 1135.33 71.3 1135.2 C79.63 1135.07 88.75 1134.93 97.5 1135.2 C106.25 1135.47 115.03 1136.1 123.8 1136.8 C132.57 1137.5 142.22 1138.7 150.1 1139.4 C157.98 1140.1 164.1 1140.38 171.1 1141 C178.1 1141.62 184.78 1142.63 192.1 1143.1 C199.42 1143.57 206.8 1143.5 215 1143.8 C223.2 1144.1 232.55 1145.02 241.3 1144.9 C250.05 1144.78 258.75 1143.93 267.5 1143.1 C276.25 1142.27 285.03 1141.08 293.8 1139.9 C302.57 1138.72 311.33 1137.32 320.1 1136 C328.87 1134.68 337.65 1133.23 346.4 1132 C355.15 1130.77 365.33 1129.4 372.6 1128.6 C379.87 1127.8 383.55 1127.85 390 1127.2 C396.45 1126.55 403.38 1125.43 411.3 1124.7 C419.22 1123.97 428.75 1123.25 437.5 1122.8 C446.25 1122.35 455.03 1122.03 463.8 1122 C472.57 1121.97 482.4 1122.33 490.1 1122.6 C497.8 1122.87 504.88 1123.35 510 1123.6 C515.12 1123.85 515.5 1123.57 520.8 1124.1 C526.1 1124.63 534.8 1125.83 541.8 1126.8 C548.8 1127.77 555.8 1128.82 562.8 1129.9 C569.8 1130.98 576.8 1132.2 583.8 1133.3 C590.8 1134.4 598.23 1135.53 604.8 1136.5 C611.37 1137.47 617.07 1138.45 623.2 1139.1 C629.33 1139.75 634.8 1140.05 641.6 1140.4 C648.4 1140.75 660.27 1141.07 664 1141.2" stroke-width="2.3" stroke-linecap="round"/>
<path d="M47.5 1136 C49.72 1135.42 55.97 1133.6 60.8 1132.5 C65.63 1131.4 70.38 1130.4 76.5 1129.4 C82.62 1128.4 90.48 1127.28 97.5 1126.5 C104.52 1125.72 111.58 1125.18 118.6 1124.7 C125.62 1124.22 132.6 1123.92 139.6 1123.6 C146.6 1123.28 151.85 1123.07 160.6 1122.8 C169.35 1122.53 183.7 1122.33 192.1 1122 C200.5 1121.67 203.68 1121.67 211 1120.8 C218.32 1119.93 228.33 1118.22 236 1116.8 C243.67 1115.38 249.98 1113.83 257 1112.3 C264.02 1110.77 271.97 1109.05 278.1 1107.6 C284.23 1106.15 287.68 1105 293.8 1103.6 C299.92 1102.2 307.78 1100.37 314.8 1099.2 C321.82 1098.03 328.88 1097.38 335.9 1096.6 C342.92 1095.82 349.9 1095.17 356.9 1094.5 C363.9 1093.83 371.22 1093.08 377.9 1092.6 C384.58 1092.12 390.57 1091.87 397 1091.6 C403.43 1091.33 409.75 1091.05 416.5 1091 C423.25 1090.95 430.48 1090.95 437.5 1091.3 C444.52 1091.65 451.58 1092.27 458.6 1093.1 C465.62 1093.93 472.37 1095.12 479.6 1096.3 C486.83 1097.48 495.13 1099.12 502 1100.2 C508.87 1101.28 514.17 1101.65 520.8 1102.8 C527.43 1103.95 535.68 1105.87 541.8 1107.1 C547.92 1108.33 552.25 1109.12 557.5 1110.2 C562.75 1111.28 567.6 1112.72 573.3 1113.6 C579 1114.48 585.57 1115.1 591.7 1115.5 C597.83 1115.9 603.97 1116 610.1 1116 C616.23 1116 622.8 1115.8 628.5 1115.5 C634.2 1115.2 639.05 1114.65 644.3 1114.2 C649.55 1113.75 656.72 1113.08 660 1112.8 C663.28 1112.52 663.33 1112.55 664 1112.5" stroke-width="3.5" stroke-linecap="round" stroke-dasharray="0.01 7.25" stroke-dashoffset="-0.8"/>
</g>
<text x="44.4" y="1070.6" font-family="Liberation Sans" font-size="13.4" font-weight="bold" fill="#000" text-anchor="end">13</text>
<text x="44.4" y="1119.2" font-family="Liberation Sans" font-size="12.6" font-weight="bold" fill="#000" text-anchor="end">9.0</text>
<text x="44.4" y="1171.8" font-family="Liberation Sans" font-size="12.6" font-weight="bold" fill="#000" text-anchor="end">5.0</text>
<text x="44.4" y="1221.9" font-family="Liberation Sans" font-size="12.6" font-weight="bold" fill="#000" text-anchor="end">1.0</text>
<text x="47.5" y="1232.7" font-family="Liberation Sans" font-size="12.6" font-weight="bold" fill="#000" text-anchor="middle">25</text>
<text x="170.4" y="1232.7" font-family="Liberation Sans" font-size="12.6" font-weight="bold" fill="#000" text-anchor="middle">26</text>
<text x="293.8" y="1232.7" font-family="Liberation Sans" font-size="12.6" font-weight="bold" fill="#000" text-anchor="middle">27</text>
<text x="417.3" y="1232.7" font-family="Liberation Sans" font-size="12.6" font-weight="bold" fill="#000" text-anchor="middle">28</text>
<text x="540.7" y="1232.7" font-family="Liberation Sans" font-size="12.6" font-weight="bold" fill="#000" text-anchor="middle">29</text>
<text x="664.2" y="1232.7" font-family="Liberation Sans" font-size="12.6" font-weight="bold" fill="#000" text-anchor="middle">30</text>
<text transform="translate(21.9 1138.25) rotate(-90)" x="0" y="0" text-anchor="middle" font-family="Liberation Sans" font-weight="bold" font-size="13.3" textLength="116.2" lengthAdjust="spacingAndGlyphs">Radiation Gain (dBi)</text>
<text x="308.5" y="1246.2" font-family="Liberation Sans" font-size="12.6" font-weight="bold" fill="#000" textLength="96.9" lengthAdjust="spacingAndGlyphs">Frequency (GHz)</text>
<rect x="622.3" y="1062" width="42" height="41.1" fill="#fff" stroke="#000" stroke-width="1.4"/>
<path d="M625.5 1069.5 L644 1069.5" stroke="#000" stroke-width="2.3" stroke-linecap="round" stroke-dasharray="4.2 4.6 0.01 4.6" fill="none"/>
<text x="646.9" y="1073.1" font-family="Liberation Sans" font-size="10.2" font-weight="bold" fill="#000" textLength="12.7" lengthAdjust="spacingAndGlyphs">(1)</text>
<line x1="625" y1="1082.5" x2="644" y2="1082.5" stroke="#000" stroke-width="2.4" />
<text x="646.9" y="1086.1" font-family="Liberation Sans" font-size="10.2" font-weight="bold" fill="#000" textLength="12.7" lengthAdjust="spacingAndGlyphs">(2)</text>
<path d="M626.3 1095.3 L644 1095.3" stroke="#000" stroke-width="3.3" stroke-linecap="round" stroke-dasharray="0.01 7.4" fill="none"/>
<text x="646.9" y="1098.9" font-family="Liberation Sans" font-size="10.2" font-weight="bold" fill="#000" textLength="12.7" lengthAdjust="spacingAndGlyphs">(3)</text>
<text x="364.8" y="1086.7" font-family="Liberation Sans" font-size="12.1" font-weight="bold" fill="#1663c1" textLength="14.3" lengthAdjust="spacingAndGlyphs">(3)</text>
<text x="394.8" y="1086.7" font-family="Liberation Sans" font-size="12.1" font-weight="bold" fill="#1663c1" textLength="115" lengthAdjust="spacingAndGlyphs">With DGS and slots</text>
<text x="367.6" y="1141.6" font-family="Liberation Sans" font-size="12.1" font-weight="bold" fill="#1663c1" textLength="14.6" lengthAdjust="spacingAndGlyphs">(2)</text>
<text x="398.2" y="1141.6" font-family="Liberation Sans" font-size="12.1" font-weight="bold" fill="#1663c1" textLength="57.3" lengthAdjust="spacingAndGlyphs">With DGS</text>
<text x="484" y="1189.6" font-family="Liberation Sans" font-size="12.1" font-weight="bold" fill="#1663c1" textLength="14.3" lengthAdjust="spacingAndGlyphs">(1)</text>
<text x="514.6" y="1189.6" font-family="Liberation Sans" font-size="12.1" font-weight="bold" fill="#1663c1" textLength="75.4" lengthAdjust="spacingAndGlyphs">With no DGS</text>
<text x="333.4" y="1272.6" font-family="Liberation Serif" font-size="19" font-weight="normal" fill="#111" textLength="22.6" lengthAdjust="spacingAndGlyphs">(c)</text>
<line x1="50.6" y1="1344.6" x2="664.8" y2="1344.6" stroke="#6e6e6e" stroke-width="1" stroke-dasharray="1 1.45"/>
<line x1="50.6" y1="1383.7" x2="664.8" y2="1383.7" stroke="#6e6e6e" stroke-width="1" stroke-dasharray="1 1.45"/>
<line x1="50.6" y1="1422.3" x2="664.8" y2="1422.3" stroke="#6e6e6e" stroke-width="1" stroke-dasharray="1 1.45"/>
<line x1="175.3" y1="1307" x2="175.3" y2="1463.2" stroke="#6e6e6e" stroke-width="1" stroke-dasharray="1 1.45"/>
<line x1="297.5" y1="1307" x2="297.5" y2="1463.2" stroke="#6e6e6e" stroke-width="1" stroke-dasharray="1 1.45"/>
<line x1="419.7" y1="1307" x2="419.7" y2="1463.2" stroke="#6e6e6e" stroke-width="1" stroke-dasharray="1 1.45"/>
<line x1="542.5" y1="1307" x2="542.5" y2="1463.2" stroke="#6e6e6e" stroke-width="1" stroke-dasharray="1 1.45"/>
<line x1="53.1" y1="1307" x2="53.1" y2="1461.7" stroke="#9a9a9a" stroke-width="2" />
<line x1="50.6" y1="1307" x2="664.8" y2="1307" stroke="#9c9c9c" stroke-width="1.7" />
<line x1="664.8" y1="1307" x2="664.8" y2="1461.7" stroke="#a8a8a8" stroke-width="1.4" />
<line x1="53.1" y1="1460.7" x2="665.5" y2="1460.7" stroke="#c8c8c8" stroke-width="2" />
<g clip-path="url(#c5)" fill="none" stroke="#000">
<path d="M53.1 1444.8 C56.08 1443.8 64.52 1440.77 71 1438.8 C77.48 1436.83 84.98 1434.72 92 1433 C99.02 1431.28 106.08 1429.68 113.1 1428.5 C120.12 1427.32 127.1 1426.68 134.1 1425.9 C141.1 1425.12 148.1 1424.37 155.1 1423.8 C162.1 1423.23 169.1 1422.85 176.1 1422.5 C183.1 1422.15 189.78 1421.77 197.1 1421.7 C204.42 1421.63 211.8 1421.97 220 1422.1 C228.2 1422.23 237.55 1422.27 246.3 1422.5 C255.05 1422.73 263.75 1423.15 272.5 1423.5 C281.25 1423.85 290.03 1424.33 298.8 1424.6 C307.57 1424.87 316.33 1425.15 325.1 1425.1 C333.87 1425.05 343.52 1424.87 351.4 1424.3 C359.28 1423.73 365.97 1422.58 372.4 1421.7 C378.83 1420.82 382.68 1419.88 390 1419 C397.32 1418.12 407.55 1417.48 416.3 1416.4 C425.05 1415.32 433.75 1413.82 442.5 1412.5 C451.25 1411.18 460.03 1410.03 468.8 1408.5 C477.57 1406.97 486.33 1404.73 495.1 1403.3 C503.87 1401.87 513.62 1400.7 521.4 1399.9 C529.18 1399.1 534.9 1399.12 541.8 1398.5 C548.7 1397.88 555.8 1396.85 562.8 1396.2 C569.8 1395.55 576.8 1395.03 583.8 1394.6 C590.8 1394.17 597.78 1393.9 604.8 1393.6 C611.82 1393.3 619.32 1393.03 625.9 1392.8 C632.48 1392.57 637.95 1392.33 644.3 1392.2 C650.65 1392.07 660.72 1392.03 664 1392" stroke-width="2.5" stroke-linecap="round" stroke-dasharray="4.2 5.3 0.01 4.9"/>
<path d="M53.1 1389.6 C56.08 1388.87 64.52 1386.63 71 1385.2 C77.48 1383.77 84.98 1382.32 92 1381 C99.02 1379.68 106.08 1378.4 113.1 1377.3 C120.12 1376.2 127.1 1375.28 134.1 1374.4 C141.1 1373.52 148.1 1372.67 155.1 1372 C162.1 1371.33 169.1 1370.88 176.1 1370.4 C183.1 1369.92 189.78 1369.45 197.1 1369.1 C204.42 1368.75 211.8 1368.73 220 1368.3 C228.2 1367.87 237.55 1367.02 246.3 1366.5 C255.05 1365.98 263.75 1365.77 272.5 1365.2 C281.25 1364.63 290.03 1363.77 298.8 1363.1 C307.57 1362.43 316.33 1361.87 325.1 1361.2 C333.87 1360.53 342.65 1359.75 351.4 1359.1 C360.15 1358.45 370.33 1357.77 377.6 1357.3 C384.87 1356.83 388.55 1356.65 395 1356.3 C401.45 1355.95 408.38 1355.6 416.3 1355.2 C424.22 1354.8 433.75 1354.2 442.5 1353.9 C451.25 1353.6 460.03 1353.48 468.8 1353.4 C477.57 1353.32 486.33 1353.18 495.1 1353.4 C503.87 1353.62 513.62 1354.27 521.4 1354.7 C529.18 1355.13 535.78 1355.57 541.8 1356 C547.82 1356.43 551.37 1356.78 557.5 1357.3 C563.63 1357.82 571.58 1358.32 578.6 1359.1 C585.62 1359.88 592.6 1360.98 599.6 1362 C606.6 1363.02 613.6 1364.15 620.6 1365.2 C627.6 1366.25 634.37 1367.33 641.6 1368.3 C648.83 1369.27 660.27 1370.55 664 1371" stroke-width="2.3" stroke-linecap="round"/>
<path d="M53.1 1344.2 C55.22 1343.88 60.62 1342.92 65.8 1342.3 C70.98 1341.68 78.08 1341.02 84.2 1340.5 C90.32 1339.98 95.93 1339.55 102.5 1339.2 C109.07 1338.85 116.58 1338.67 123.6 1338.4 C130.62 1338.13 137.6 1337.82 144.6 1337.6 C151.6 1337.38 158.6 1337.27 165.6 1337.1 C172.6 1336.93 179.6 1336.82 186.6 1336.6 C193.6 1336.38 200.37 1336.02 207.6 1335.8 C214.83 1335.58 220.93 1335.75 230 1335.3 C239.07 1334.85 253.15 1333.82 262 1333.1 C270.85 1332.38 276.08 1331.7 283.1 1331 C290.12 1330.3 297.1 1329.55 304.1 1328.9 C311.1 1328.25 318.1 1327.75 325.1 1327.1 C332.1 1326.45 339.1 1325.67 346.1 1325 C353.1 1324.33 359.78 1323.55 367.1 1323.1 C374.42 1322.65 381.8 1322.52 390 1322.3 C398.2 1322.08 407.55 1321.88 416.3 1321.8 C425.05 1321.72 433.75 1321.45 442.5 1321.8 C451.25 1322.15 460.03 1323.02 468.8 1323.9 C477.57 1324.78 486.33 1326.05 495.1 1327.1 C503.87 1328.15 513.62 1329.3 521.4 1330.2 C529.18 1331.1 534.9 1331.62 541.8 1332.5 C548.7 1333.38 555.8 1334.65 562.8 1335.5 C569.8 1336.35 576.8 1337.03 583.8 1337.6 C590.8 1338.17 597.78 1338.6 604.8 1338.9 C611.82 1339.2 619.32 1339.4 625.9 1339.4 C632.48 1339.4 638.62 1339.12 644.3 1338.9 C649.98 1338.68 656.72 1338.27 660 1338.1 C663.28 1337.93 663.33 1337.93 664 1337.9" stroke-width="3.5" stroke-linecap="round" stroke-dasharray="0.01 7.25" stroke-dashoffset="-0.8"/>
</g>
<text x="49.4" y="1315" font-family="Liberation Sans" font-size="12.6" font-weight="bold" fill="#000" text-anchor="end">85</text>
<text x="49.4" y="1350.9" font-family="Liberation Sans" font-size="12.6" font-weight="bold" fill="#000" text-anchor="end">75</text>
<text x="49.4" y="1390.7" font-family="Liberation Sans" font-size="12.6" font-weight="bold" fill="#000" text-anchor="end">65</text>
<text x="49.4" y="1428.8" font-family="Liberation Sans" font-size="12.6" font-weight="bold" fill="#000" text-anchor="end">55</text>
<text x="49.4" y="1464.1" font-family="Liberation Sans" font-size="12.6" font-weight="bold" fill="#000" text-anchor="end">45</text>
<text x="53.1" y="1473.8" font-family="Liberation Sans" font-size="12.6" font-weight="bold" fill="#000" text-anchor="middle">25</text>
<text x="175.3" y="1473.8" font-family="Liberation Sans" font-size="12.6" font-weight="bold" fill="#000" text-anchor="middle">26</text>
<text x="297.5" y="1473.8" font-family="Liberation Sans" font-size="12.6" font-weight="bold" fill="#000" text-anchor="middle">27</text>
<text x="419.7" y="1473.8" font-family="Liberation Sans" font-size="12.6" font-weight="bold" fill="#000" text-anchor="middle">28</text>
<text x="542.5" y="1473.8" font-family="Liberation Sans" font-size="12.6" font-weight="bold" fill="#000" text-anchor="middle">29</text>
<text x="664.8" y="1473.8" font-family="Liberation Sans" font-size="12.6" font-weight="bold" fill="#000" text-anchor="middle">30</text>
<text transform="translate(29.1 1383.4) rotate(-90)" x="0" y="0" text-anchor="middle" font-family="Liberation Sans" font-weight="bold" font-size="13.2" textLength="135.9" lengthAdjust="spacingAndGlyphs">Radiation Efficiency (%)</text>
<text x="311.5" y="1487.2" font-family="Liberation Sans" font-size="12.6" font-weight="bold" fill="#000" textLength="95.8" lengthAdjust="spacingAndGlyphs">Frequency (GHz)</text>
<rect x="622.3" y="1420.1" width="42.2" height="40.5" fill="#fff" stroke="#000" stroke-width="1.4"/>
<path d="M625.5 1427.5 L644 1427.5" stroke="#000" stroke-width="2.3" stroke-linecap="round" stroke-dasharray="4.2 4.6 0.01 4.6" fill="none"/>
<text x="646.9" y="1431.1" font-family="Liberation Sans" font-size="10.2" font-weight="bold" fill="#000" textLength="12.7" lengthAdjust="spacingAndGlyphs">(1)</text>
<line x1="625" y1="1440" x2="644" y2="1440" stroke="#000" stroke-width="2.4" />
<text x="646.9" y="1443.6" font-family="Liberation Sans" font-size="10.2" font-weight="bold" fill="#000" textLength="12.7" lengthAdjust="spacingAndGlyphs">(2)</text>
<path d="M626.3 1452.7 L644 1452.7" stroke="#000" stroke-width="3.3" stroke-linecap="round" stroke-dasharray="0.01 7.4" fill="none"/>
<text x="646.9" y="1456.3" font-family="Liberation Sans" font-size="10.2" font-weight="bold" fill="#000" textLength="12.7" lengthAdjust="spacingAndGlyphs">(3)</text>
<text x="104.4" y="1328.3" font-family="Liberation Sans" font-size="12.5" font-weight="bold" fill="#1663c1" textLength="14.2" lengthAdjust="spacingAndGlyphs">(3)</text>
<text x="134.2" y="1328.3" font-family="Liberation Sans" font-size="12.5" font-weight="bold" fill="#1663c1" textLength="26.6" lengthAdjust="spacingAndGlyphs">With</text>
<text x="167.5" y="1328.3" font-family="Liberation Sans" font-size="12.5" font-weight="bold" fill="#1663c1" textLength="82.6" lengthAdjust="spacingAndGlyphs">DGS and slots</text>
<text x="257.2" y="1357.8" font-family="Liberation Sans" font-size="12.5" font-weight="bold" fill="#1663c1" textLength="13.7" lengthAdjust="spacingAndGlyphs">(2)</text>
<text x="287.3" y="1357.8" font-family="Liberation Sans" font-size="12.5" font-weight="bold" fill="#1663c1" textLength="55.8" lengthAdjust="spacingAndGlyphs">With DGS</text>
<text x="292.9" y="1415.8" font-family="Liberation Sans" font-size="12.5" font-weight="bold" fill="#1663c1" textLength="14" lengthAdjust="spacingAndGlyphs">(1)</text>
<text x="322.7" y="1415.8" font-family="Liberation Sans" font-size="12.5" font-weight="bold" fill="#1663c1" textLength="73.9" lengthAdjust="spacingAndGlyphs">With no DGS</text>
<text x="341" y="1515.6" font-family="Liberation Serif" font-size="19" font-weight="normal" fill="#111" textLength="23" lengthAdjust="spacingAndGlyphs">(d)</text>
</svg>
</body></html>
